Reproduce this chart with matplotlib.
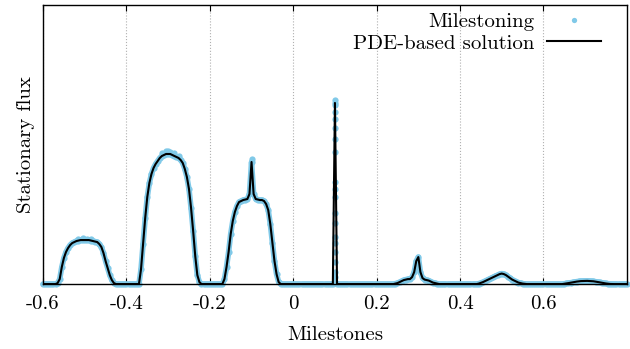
import numpy as np
import matplotlib
matplotlib.use('Agg')
from matplotlib import pyplot as plt

plt.rcParams['font.family'] = ['cmr10', 'DejaVu Serif']
plt.rcParams['axes.unicode_minus'] = False
plt.rcParams['mathtext.fontset'] = 'cm'

# milestones on a uniform grid, -0.6 .. 0.8 step 0.005
milestones = np.linspace(-0.6, 0.8, 281)

# stationary flux (arbitrary units)
flux = ([0.0] * 7
        + [0.01, 0.05, 0.17, 0.26, 0.32, 0.36, 0.39, 0.41, 0.42, 0.43, 0.435, 0.44, 0.44, 0.44, 0.44,
           0.44, 0.435, 0.43, 0.425, 0.42, 0.40, 0.37, 0.31, 0.23, 0.16, 0.09, 0.04, 0.01, 0.0]
        + [0.0] * 11
        + [0.15, 0.40, 0.66, 0.87, 1.01, 1.10, 1.16, 1.20, 1.23, 1.26, 1.28, 1.29, 1.30, 1.30, 1.30,
           1.29, 1.28, 1.27, 1.26, 1.24, 1.21, 1.15, 1.07, 0.95, 0.76, 0.53, 0.28, 0.09, 0.02]
        + [0.0] * 11
        + [0.05, 0.17, 0.32, 0.50, 0.63, 0.72, 0.78, 0.82, 0.83, 0.84, 0.845, 0.85, 0.90, 1.22, 0.90,
           0.85, 0.845, 0.84, 0.84, 0.83, 0.80, 0.74, 0.60, 0.41, 0.23, 0.10, 0.02]
        + [0.0] * 26
        + [1.81]
        + [0.0] * 28
        + [0.005, 0.01, 0.02, 0.03, 0.04, 0.045, 0.05, 0.05, 0.07, 0.12, 0.23, 0.27, 0.12, 0.06, 0.045,
           0.04, 0.035, 0.025, 0.015, 0.01, 0.004]
        + [0.0] * 19
        + [0.005, 0.012, 0.02, 0.03, 0.04, 0.05, 0.06, 0.07, 0.08, 0.09, 0.1, 0.105, 0.1, 0.09, 0.075,
           0.06, 0.045, 0.035, 0.025, 0.015, 0.01, 0.005, 0.002]
        + [0.0] * 18
        + [0.003, 0.006, 0.01, 0.014, 0.018, 0.022, 0.025, 0.028, 0.03, 0.031, 0.032, 0.032, 0.031,
           0.03, 0.028, 0.025, 0.021, 0.017, 0.013, 0.009, 0.006, 0.003, 0.001]
        + [0.0] * 8)
flux = np.array(flux)

# extra milestoning points: the narrow spike at 0.1 and scatter on the plateaus
spike_x = [0.0995, 0.0995, 0.0995, 0.0995, 0.0995, 0.0995, 0.0995, 0.0995, 0.0995, 0.0995,
           0.099, 0.0995, 0.099, 0.0995, 0.0995, 0.099, 0.0995, 0.099, 0.0995]
spike_y = [1.84, 1.79, 1.72, 1.65, 1.56, 1.45, 1.32, 1.02, 0.95, 0.87,
           0.71, 0.61, 0.47, 0.41, 0.32, 0.22, 0.12, 0.07, 0.02]
top_x = [-0.515, -0.505, -0.495, -0.485, -0.315, -0.305, -0.3, -0.295, -0.285, -0.275, -0.1]
top_y = [0.455, 0.46, 0.455, 0.45, 1.31, 1.33, 1.33, 1.32, 1.31, 1.28, 1.25]

xticks = [-0.6, -0.4, -0.2, 0, 0.2, 0.4, 0.6]
xticklabels = ['-0.6', '-0.4', '-0.2', '0', '0.2', '0.4', '0.6']

fig = plt.figure(figsize=(6.3, 3.49), dpi=100)
ax = fig.add_axes([0.0683, 0.186, 0.9267, 0.80])

blue = '#80c9e8'
# dense milestoning band (milestones are much finer than the grid on the steep flanks)
away = np.abs(milestones - 0.1) > 0.003
band_x = np.where(away, milestones, np.nan)
ax.plot(band_x, np.where(away, flux, np.nan), '-', color=blue, lw=4.0,
        solid_capstyle='round', solid_joinstyle='round', clip_on=False, zorder=2)
ms_x = np.concatenate([milestones, spike_x, top_x])
ms_y = np.concatenate([flux, spike_y, top_y])
ax.plot(ms_x, ms_y, 'o', color=blue, ms=4.5, mec='none', label='Milestoning', clip_on=False, zorder=2)
ax.plot(milestones, flux, '-', color='black', lw=1.5, label='PDE-based solution', zorder=3)

ax.set_xlim(-0.6, 0.8)
ax.set_ylim(0, 2.79)
ax.set_xticks(xticks)
ax.set_xticklabels(xticklabels)
ax.set_yticks([])
ax.tick_params(axis='x', direction='in', top=True, length=4, labelsize=15, pad=8)
ax.grid(axis='x', color='#b0b0b0', linestyle=':', linewidth=0.8)
for s in ax.spines.values():
    s.set_linewidth(1.0)

ax.set_xlabel('Milestones', fontsize=15, labelpad=9)
ax.set_ylabel('Stationary flux', fontsize=15, labelpad=6)

leg = ax.legend(loc='upper right', bbox_to_anchor=(0.963, 0.988), frameon=False, markerfirst=False,
                fontsize=15, handlelength=2.6, borderaxespad=0, borderpad=0.2,
                labelspacing=0.15, handletextpad=0.6)
leg.legend_handles[0].set_markersize(3.8)

fig.savefig('out.png', dpi=100)
